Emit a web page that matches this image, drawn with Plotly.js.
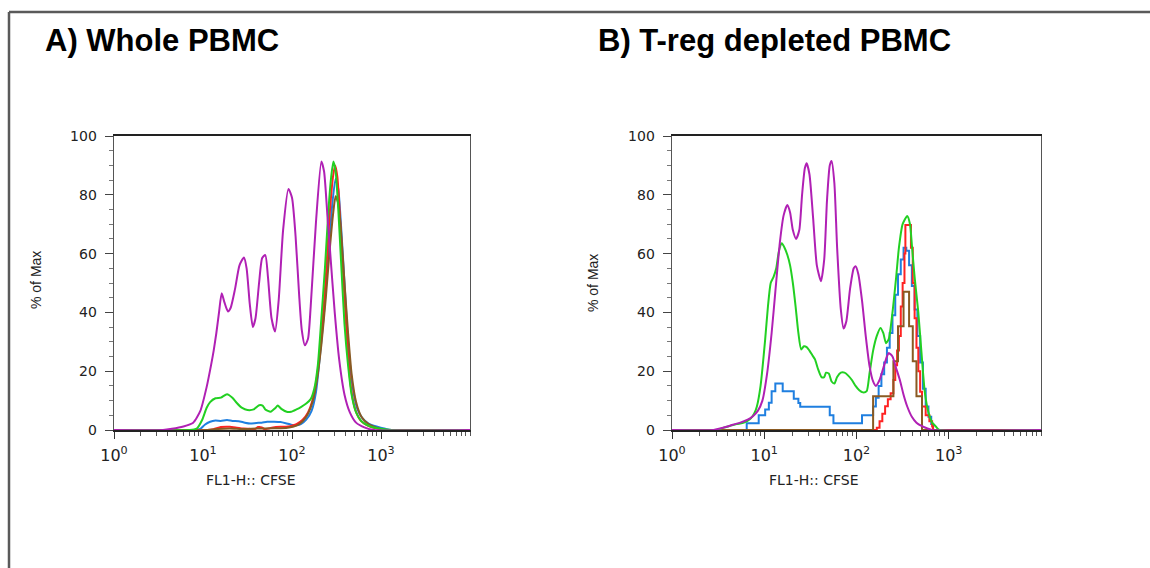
<!DOCTYPE html>
<html>
<head>
<meta charset="utf-8">
<script src="https://cdn.plot.ly/plotly-3.0.1.min.js"></script>
<style>html,body{margin:0;padding:0;background:#fff;}#chart{width:1150px;height:568px;}</style>
</head>
<body>
<div id="chart"></div>
<script>
// ---- Data (x given as log10 of FL1-H CFSE intensity, y = % of Max) ----
const panelTitles = ["A) Whole PBMC", "B) T-reg depleted PBMC"];
const xTitle = "FL1-H:: CFSE";
const yTitle = "% of Max";
const xTickVals = [1, 10, 100, 1000];
const xTickText = ["10<sup>0</sup>", "10<sup>1</sup>", "10<sup>2</sup>", "10<sup>3</sup>"];
const yTickVals = [0, 20, 40, 60, 80, 100];

// Panel A: Whole PBMC
const aMagentaLog = [0,0.55,0.65,0.78,0.89,0.97,1.04,1.09,1.12,1.15,1.18,1.21,1.24,1.28,1.31,1.36,1.41,1.46,1.49,1.525,1.56,1.59,1.63,1.665,1.70,1.73,1.77,1.81,1.85,1.90,1.96,2.00,2.04,2.08,2.11,2.145,2.18,2.21,2.27,2.33,2.36,2.40,2.43,2.48,2.53,2.59,2.65,2.72,2.82,2.92,4];
const aMagentaVal = [0,0,0.4,1.2,2.5,6.5,14.5,22,27,33,40,46.5,43.5,40.3,41.5,48,56,58.7,55,43,35,38,50,58.5,59.5,52,38,33.5,44,68,82,79,66,46,34,28.8,31,42,71,91.3,88,72,60,40,24,12,6,2.5,0.8,0,0];

const aGreenLog = [0,0.85,0.93,0.99,1.04,1.08,1.14,1.20,1.27,1.33,1.38,1.44,1.50,1.57,1.63,1.67,1.70,1.76,1.81,1.84,1.88,1.94,1.99,2.05,2.10,2.16,2.21,2.25,2.29,2.33,2.37,2.41,2.44,2.465,2.49,2.52,2.55,2.59,2.63,2.67,2.72,2.78,2.88,3.0,3.12,4];
const aGreenVal = [0,0,0.5,3.4,7.5,9.5,10.8,11,12.2,11,9.2,7.5,6.8,7,8.4,8.3,7,6.2,7.4,8.3,7.2,6.2,6.2,7,7.8,9,10.5,14,22,38,55,75,86,91.3,88,75,58,36,22,12,6,3,1.2,0.4,0,0];

const aBlueLog = [0,0.9,0.97,1.02,1.08,1.14,1.2,1.27,1.33,1.40,1.47,1.53,1.6,1.66,1.72,1.8,1.87,1.93,1.99,2.04,2.10,2.16,2.22,2.27,2.31,2.36,2.41,2.45,2.49,2.52,2.55,2.59,2.63,2.68,2.73,2.79,2.86,2.95,3.05,3.12,4];
const aBlueVal = [0,0,0.4,1.8,2.8,3.2,3.1,3.4,3.1,3,2.5,2.2,2.4,2.5,2.8,2.8,2.7,2.3,1.8,1.6,2,3.5,6.5,13,24,40,60,76,85.5,82,70,50,30,15,7.5,4,2.2,1.2,0.4,0,0];

const aRedLog = [0,1.05,1.12,1.2,1.3,1.38,1.45,1.52,1.58,1.62,1.66,1.69,1.75,1.82,1.9,1.98,2.05,2.12,2.18,2.23,2.28,2.33,2.38,2.42,2.46,2.485,2.51,2.54,2.58,2.62,2.66,2.71,2.77,2.85,2.95,3.05,4];
const aRedVal = [0,0,0.3,1,1.1,0.8,0.5,0.4,0.3,1,0.9,0.3,0.6,1,1.1,1.3,2,3.5,6,10,18,32,52,72,86,90,86,72,50,30,15,7,3.3,1.5,0.5,0,0];

const aBrownLog = [0,1.05,1.15,1.3,1.45,1.6,1.8,1.95,2.05,2.12,2.18,2.23,2.28,2.33,2.38,2.42,2.46,2.49,2.52,2.55,2.59,2.63,2.67,2.72,2.78,2.86,2.95,3.05,4];
const aBrownVal = [0,0,0.3,0.5,0.3,0.5,0.6,0.8,1.5,3,5.5,9.5,17,29,45,60,73,79.5,77,68,50,33,19,9.5,4.5,2,0.8,0,0];

// Panel B: T-reg depleted PBMC
const bMagentaLog = [0,0.45,0.52,0.59,0.66,0.74,0.82,0.88,0.93,0.98,1.03,1.08,1.12,1.17,1.21,1.25,1.28,1.31,1.345,1.38,1.41,1.44,1.46,1.49,1.53,1.57,1.615,1.65,1.68,1.71,1.73,1.76,1.79,1.83,1.86,1.89,1.93,1.97,1.99,2.02,2.06,2.10,2.14,2.18,2.21,2.25,2.29,2.33,2.35,2.39,2.43,2.47,2.51,2.55,2.60,2.65,2.71,2.77,2.82,4];
const bMagentaVal = [0,0,0.5,1.1,1.8,2.5,3.5,4.8,6.5,10,19,33,47,64,73,76.5,74,68,65,68,80,89,90.7,87,72,56,50.6,58,78,90,91.5,84,62,41,34.5,37,48,55,55.7,53,44,32,22,16.5,15,17,21,25,26.2,25,21,17,12,8,4.5,2.5,1.3,0.5,0,0];

const bGreenLog = [0,0.49,0.56,0.63,0.70,0.78,0.85,0.89,0.92,0.96,1.01,1.04,1.07,1.10,1.13,1.16,1.19,1.22,1.25,1.28,1.31,1.34,1.37,1.40,1.43,1.46,1.49,1.52,1.55,1.58,1.62,1.65,1.67,1.70,1.73,1.76,1.79,1.83,1.87,1.91,1.95,1.99,2.03,2.07,2.11,2.14,2.18,2.22,2.26,2.29,2.32,2.35,2.39,2.43,2.46,2.50,2.55,2.58,2.60,2.63,2.67,2.71,2.74,2.78,2.82,2.86,2.90,4];
const bGreenVal = [0,0,0.8,1.4,2,2.5,3.8,5.5,8,15,30.8,42,50,52,55,61,63.5,62,59.6,56,50,42,33,27.4,28.5,28.2,27,25.5,24,21,18,18,19.5,19.2,16.5,15.8,18,19.5,19.5,18.5,17,15,13.5,12.8,13.2,19,27,32,34.7,33,29.5,31,40,52,62,70,72.8,70,63,52,40,24,13,6,2.5,1.2,0,0];

// step-shaped histograms (value holds until next bin edge)
const bBlueLog = [0,0.81,0.94,1.01,1.05,1.08,1.12,1.20,1.32,1.37,1.39,1.71,1.75,2.06,2.18,2.21,2.24,2.27,2.30,2.33,2.36,2.39,2.42,2.45,2.48,2.51,2.54,2.57,2.60,2.63,2.66,2.69,2.72,2.75,2.78,2.81,2.83,4];
const bBlueVal = [0,2.3,5,7,9.3,13.2,15.8,13.2,10.6,9.2,7.9,5,2.3,5,8,11,15,19,23,28,33,39,46,53,58,62,61,56,49,41,32,23,14,8,4.5,2,0,0];

const bRedLog = [0,2.22,2.25,2.28,2.31,2.34,2.37,2.40,2.42,2.44,2.46,2.48,2.50,2.52,2.53,2.59,2.61,2.63,2.65,2.67,2.69,2.71,2.75,2.79,2.82,2.83,4];
const bRedVal = [0,0.8,3,5.5,8.1,10.5,12.5,17,22,27,32,42,50,60,69.7,62,50,38,28,20,13,8,5,3,1.2,0,0];

const bBrownLog = [0,2.18,2.40,2.45,2.51,2.57,2.61,2.65,2.71,4];
const bBrownVal = [0,11.5,23.4,35.3,47,35.3,23.4,11.5,0,0];

const colors = {magenta:"#B020B4", green:"#22D022", blue:"#1F7FE0", red:"#FF2222", brown:"#8A5A22"};

// ---- Build traces ----
const toX = arr => arr.map(v => Math.pow(10, v));
function tr(logs, vals, color, ax, shape){
  return {x: toX(logs), y: vals, type:"scatter", mode:"lines", xaxis: ax[0], yaxis: ax[1],
    line:{color: color, width: 2, shape: shape || "spline", smoothing: 0.6}, hoverinfo:"skip", showlegend:false};
}
const A = ["x","y"], B = ["x2","y2"];
const traces = [
  tr(aBlueLog, aBlueVal, colors.blue, A),
  tr(aRedLog, aRedVal, colors.red, A),
  tr(aBrownLog, aBrownVal, colors.brown, A),
  tr(aGreenLog, aGreenVal, colors.green, A),
  tr(aMagentaLog, aMagentaVal, colors.magenta, A),
  tr(bBlueLog, bBlueVal, colors.blue, B, "hv"),
  tr(bRedLog, bRedVal, colors.red, B, "hv"),
  tr(bBrownLog, bBrownVal, colors.brown, B, "hv"),
  tr(bGreenLog, bGreenVal, colors.green, B),
  tr(bMagentaLog, bMagentaVal, colors.magenta, B)
];

const W = 1150, H = 568;
const px = v => v / W, py = v => 1 - v / H;
const yTickFont = {family:"DejaVu Sans, Verdana, sans-serif", size:14, color:"#222"};
const xTickFont = {family:"DejaVu Sans, Verdana, sans-serif", size:16, color:"#222"};

function xa(domain){
  return {type:"log", range:[0,4], domain: domain, showgrid:false, zeroline:false,
    showline:true, linecolor:"#222", linewidth:1.6, mirror:true,
    tickmode:"array", tickvals: xTickVals, ticktext: xTickText,
    ticks:"outside", ticklen:7, tickwidth:1, tickcolor:"#333",
    minor:{ticks:"outside", ticklen:4, tickwidth:1, tickcolor:"#555", dtick:"D1", showgrid:false},
    tickfont: xTickFont, ticklabelstandoff: 3};
}
function ya(domain, anchor){
  return {range:[0,100], domain: domain, anchor: anchor, showgrid:false, zeroline:false,
    showline:true, linecolor:"#555", linewidth:1.4, mirror:true,
    tickmode:"array", tickvals: yTickVals, ticks:"outside", ticklen:8, tickwidth:1, tickcolor:"#444",
    minor:{ticks:"outside", ticklen:4, tickwidth:1, tickcolor:"#777", dtick:5, showgrid:false},
    tickfont: yTickFont, ticklabelstandoff: 5};
}
const yDom = [py(430), py(136)];
const titleFont = {family:"Liberation Sans Narrow, Arial Narrow, Liberation Sans, Arial, sans-serif", size:31, weight:"bold", color:"#000"};
const axTitleFont = {family:"DejaVu Sans, Verdana, sans-serif", size:14, color:"#222"};
const yTitleFont = {family:"Liberation Sans Narrow, Arial Narrow, Liberation Sans, Arial, sans-serif", size:14, color:"#222"};
const layout = {
  width: W, height: H, margin:{l:0,r:0,t:0,b:0}, paper_bgcolor:"#fff", plot_bgcolor:"#fff",
  xaxis: Object.assign(xa([px(114), px(470)]), {anchor:"y"}),
  yaxis: ya(yDom, "x"),
  xaxis2: Object.assign(xa([px(672), px(1041)]), {anchor:"y2"}),
  yaxis2: ya(yDom, "x2"),
  shapes: [
    {type:"line", xref:"paper", yref:"paper", x0:px(9), x1:1, y0:py(12), y1:py(12), line:{color:"#5a5a5a", width:2.5}},
    {type:"line", xref:"paper", yref:"paper", x0:px(9), x1:px(9), y0:py(12), y1:0, line:{color:"#5a5a5a", width:2.5}}
  ],
  annotations: [
    {text: panelTitles[0], xref:"paper", yref:"paper", x:px(43), y:py(40), xanchor:"left", yanchor:"middle", showarrow:false, font:titleFont},
    {text: panelTitles[1], xref:"paper", yref:"paper", x:px(596), y:py(40), xanchor:"left", yanchor:"middle", showarrow:false, font:titleFont},
    {text: xTitle, xref:"paper", yref:"paper", x:px(251), y:py(480), xanchor:"center", yanchor:"middle", showarrow:false, font:axTitleFont},
    {text: xTitle, xref:"paper", yref:"paper", x:px(814), y:py(480), xanchor:"center", yanchor:"middle", showarrow:false, font:axTitleFont},
    {text: yTitle, xref:"paper", yref:"paper", x:px(36), y:py(280), xanchor:"center", yanchor:"middle", showarrow:false, textangle:-90, font:yTitleFont},
    {text: yTitle, xref:"paper", yref:"paper", x:px(593), y:py(283), xanchor:"center", yanchor:"middle", showarrow:false, textangle:-90, font:yTitleFont}
  ]
};
Plotly.newPlot("chart", traces, layout, {staticPlot:true, displayModeBar:false});
</script>
</body>
</html>
